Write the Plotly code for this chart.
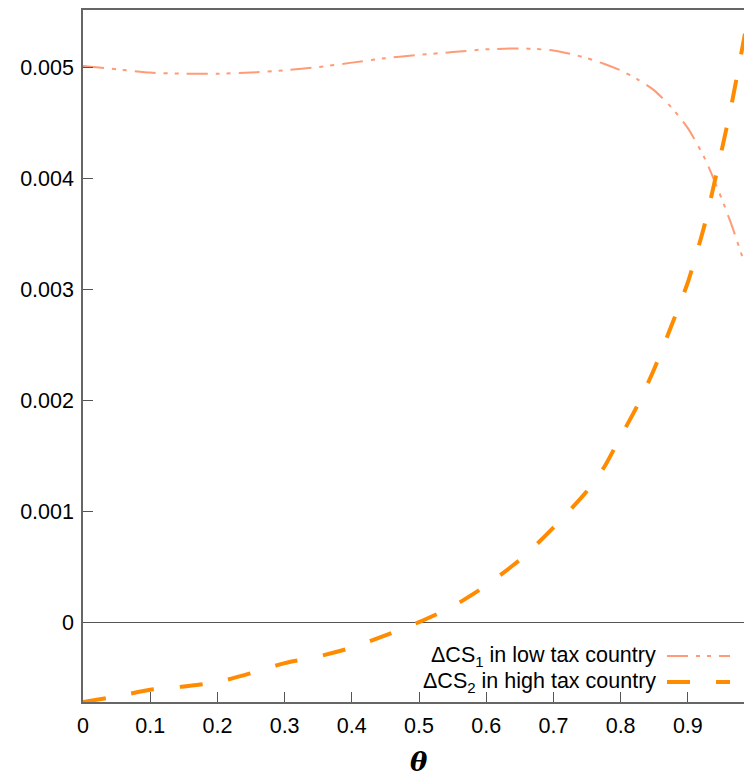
import plotly.graph_objects as go

theta = [0.0, 0.05, 0.1, 0.15, 0.2, 0.25, 0.3, 0.35, 0.4, 0.45, 0.5, 0.55, 0.6, 0.65,
         0.675, 0.7, 0.725, 0.75, 0.775, 0.8, 0.825, 0.85, 0.875, 0.9, 0.925, 0.95,
         0.965, 0.985]
cs1_low = [0.00501, 0.00498, 0.00495, 0.00494, 0.00494, 0.00495, 0.00497, 0.00500,
           0.00504, 0.00508, 0.00511, 0.005135, 0.00516, 0.005168, 0.005162, 0.00515,
           0.00512, 0.00508, 0.00503, 0.00497, 0.00489, 0.00479, 0.00464, 0.00445,
           0.00418, 0.00382, 0.00358, 0.00322]
cs2_high = [-0.00072, -0.00067, -0.00061, -0.00058, -0.00054, -0.00046, -0.00037,
            -0.00031, -0.00023, -0.00012, 0.0, 0.00014, 0.00033, 0.00056, 0.00070,
            0.00085, 0.00101, 0.00118, 0.00139, 0.00167, 0.00195, 0.00228, 0.00266,
            0.00306, 0.00358, 0.00424, 0.00466, 0.00530]

y_ticks = [0, 0.001, 0.002, 0.003, 0.004, 0.005]
y_ticktext = ["0", "0.001", "0.002", "0.003", "0.004", "0.005"]
x_ticks = [0, 0.1, 0.2, 0.3, 0.4, 0.5, 0.6, 0.7, 0.8, 0.9]
x_ticktext = ["0", "0.1", "0.2", "0.3", "0.4", "0.5", "0.6", "0.7", "0.8", "0.9"]

c1 = "#FF9B76"
c2 = "#FF8C00"
dash1 = "21px,8px,4px,7px,4px,8px"
dash2 = "23px,26px"

fig = go.Figure()
fig.add_trace(go.Scatter(x=theta, y=cs1_low, mode="lines",
                         line=dict(color=c1, width=2, dash=dash1, shape="spline", smoothing=0.6),
                         showlegend=False))
fig.add_trace(go.Scatter(x=theta, y=cs2_high, mode="lines",
                         line=dict(color=c2, width=4, dash=dash2, shape="spline", smoothing=0.6),
                         showlegend=False))

font = dict(family="Liberation Sans, Arial", size=21.5, color="black")
legend_font = dict(family="Liberation Sans, Arial", size=21.5, color="black")

L, T, W, H = 83, 10, 661, 692
def px(xp):
    return (xp - L) / W
def py(yp):
    return (T + H - yp) / H

legend_items = [("ΔCS<sub>1</sub> in low tax country", c1, 2, dash1, 656),
                ("ΔCS<sub>2</sub> in high tax country", c2, 4, dash2, 682)]
for text, col, w, d, yy in legend_items:
    fig.add_annotation(x=px(658), y=py(yy), xref="paper", yref="paper", text=text,
                       showarrow=False, xanchor="right", yanchor="middle", font=legend_font)
    fig.add_shape(type="line", xref="paper", yref="paper", x0=px(667), x1=px(730),
                  y0=py(yy), y1=py(yy), line=dict(color=col, width=w, dash=d))

# axis title
fig.add_annotation(x=px(419), y=py(762), xref="paper", yref="paper",
                   text="<b><i>θ</i></b>", showarrow=False, xanchor="center",
                   yanchor="middle",
                   font=dict(family="DejaVu Serif", size=26, color="black"))

fig.update_layout(
    width=744, height=778,
    margin=dict(l=L, r=0, t=T, b=778 - T - H),
    plot_bgcolor="white", paper_bgcolor="white",
    font=font,
    showlegend=False,
)
fig.update_xaxes(range=[0, 0.9836], tickvals=x_ticks, ticktext=x_ticktext,
                 ticks="inside", ticklen=10, tickcolor="#555", tickwidth=1,
                 showline=True, linecolor="#666", linewidth=1.5, mirror=True,
                 showgrid=False, zeroline=False, ticklabelstandoff=3)
fig.update_yaxes(range=[-0.00072, 0.005514], tickvals=y_ticks, ticktext=y_ticktext,
                 ticks="inside", ticklen=10, tickcolor="#555", tickwidth=1,
                 showline=True, linecolor="#666", linewidth=1.5, mirror=False,
                 showgrid=False, zeroline=True, zerolinecolor="#555", zerolinewidth=1,
                 ticklabelstandoff=3)

fig.write_html("out.html")
